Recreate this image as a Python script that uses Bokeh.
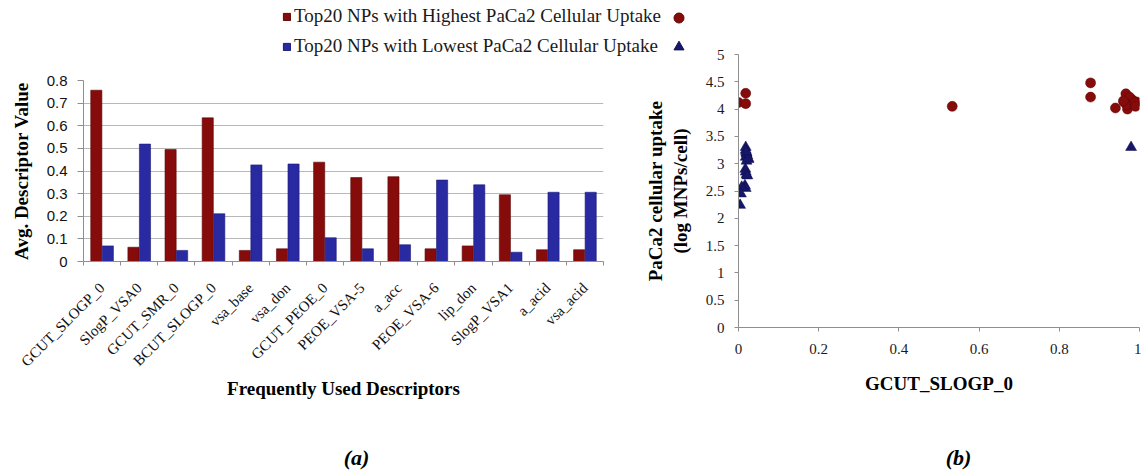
import math
import numpy as np
from bokeh.plotting import figure
from bokeh.models import (Range1d, FixedTicker, SingleIntervalTicker, NumeralTickFormatter,
                          Legend, LegendItem, Label, GridBox, ColumnDataSource)
from bokeh.core.properties import value
from bokeh.embed import file_html
from bokeh.resources import INLINE

# ---------------- data ----------------
descriptors = ["GCUT_SLOGP_0", "SlogP_VSA0", "GCUT_SMR_0", "BCUT_SLOGP_0", "vsa_base", "vsa_don",
               "GCUT_PEOE_0", "PEOE_VSA-5", "a_acc", "PEOE_VSA-6", "lip_don", "SlogP_VSA1",
               "a_acid", "vsa_acid"]
highest_avg = [0.757, 0.063, 0.495, 0.635, 0.049, 0.056, 0.439, 0.371,
               0.375, 0.056, 0.069, 0.295, 0.052, 0.052]
lowest_avg = [0.069, 0.519, 0.049, 0.211, 0.427, 0.431, 0.105, 0.056,
              0.074, 0.360, 0.339, 0.041, 0.306, 0.306]

series_names = ["Top20 NPs with Highest PaCa2 Cellular Uptake",
                "Top20 NPs with Lowest PaCa2 Cellular Uptake"]
panel_tags = ["(a)", "(b)"]

high_gcut = [0.000, 0.018, 0.018, 0.533, 0.878, 0.878, 0.940, 0.966, 0.961, 0.979,
             0.973, 0.993, 0.981, 0.970, 0.985, 0.975, 0.968, 0.988, 0.990, 0.960]
high_uptake = [4.12, 4.29, 4.10, 4.05, 4.48, 4.22, 4.02, 4.28, 4.13, 4.19,
               4.05, 4.13, 4.10, 4.00, 4.15, 4.22, 4.08, 4.12, 4.05, 4.15]
low_gcut = [0.018, 0.018, 0.020, 0.022, 0.025, 0.018, 0.020, 0.017, 0.018, 0.020,
            0.022, 0.016, 0.018, 0.008, 0.006, 0.004, 0.020, 0.024, 0.019, 0.979]
low_uptake = [3.30, 3.25, 3.20, 3.15, 3.08, 3.12, 3.05, 2.90, 2.85, 2.80,
              2.78, 2.60, 2.55, 2.57, 2.45, 2.24, 3.18, 3.10, 3.22, 3.30]

bar_ticks = [0, 0.1, 0.2, 0.3, 0.4, 0.5, 0.6, 0.7, 0.8]

RED = "#860B0B"
RED_EDGE = "#5e0606"
BLUE = "#2929A2"
BLUE_EDGE = "#1b1b78"
NAVY = "#17176A"
AXIS = "#8f8f8f"
SERIF = "Liberation Serif"

# ---------------- bar chart (a) ----------------
n = len(descriptors)
idx = np.arange(n)
bsrc = ColumnDataSource(dict(x_hi=idx + 0.5 - 0.155, x_lo=idx + 0.5 + 0.155,
                             hi=highest_avg, lo=lowest_avg, name=descriptors))

bar = figure(width=640, height=473, x_range=Range1d(0, n), y_range=Range1d(0, 0.8),
             output_backend="svg", toolbar_location=None, frame_align=False,
             min_border_left=83, min_border_right=37, min_border_top=80, min_border_bottom=212)
bar.outline_line_color = None
bar.vbar(x="x_hi", top="hi", width=0.3, bottom=0, source=bsrc,
         fill_color=RED, line_color=RED_EDGE, line_width=0.6)
bar.vbar(x="x_lo", top="lo", width=0.3, bottom=0, source=bsrc,
         fill_color=BLUE, line_color=BLUE_EDGE, line_width=0.6)

xa = bar.xaxis[0]
xa.ticker = FixedTicker(ticks=[float(i) + 0.5 for i in idx], minor_ticks=[float(i) for i in range(n + 1)])
xa.major_label_overrides = {float(i) + 0.5: d for i, d in enumerate(descriptors)}
xa.major_label_orientation = math.pi / 4
xa.major_tick_line_color = None
xa.major_tick_out = 0
xa.major_tick_in = 0
xa.minor_tick_out = 4
xa.minor_tick_in = 0
xa.minor_tick_line_color = AXIS
xa.axis_line_color = AXIS
xa.major_label_text_font = SERIF
xa.major_label_text_font_size = "15px"
xa.major_label_text_color = "#111111"
xa.major_label_standoff = 20
xa.axis_label = "Frequently Used Descriptors"
xa.axis_label_text_font = SERIF
xa.axis_label_text_font_style = "bold"
xa.axis_label_text_font_size = "19px"
xa.axis_label_text_color = "#000000"
xa.axis_label_standoff = 0

ya = bar.yaxis[0]
ya.ticker = FixedTicker(ticks=bar_ticks)
ya.formatter = NumeralTickFormatter(format="0.[0]")
ya.axis_line_color = AXIS
ya.major_tick_line_color = AXIS
ya.major_tick_out = 6
ya.major_tick_in = 0
ya.minor_tick_line_color = None
ya.major_label_text_font = "Liberation Sans"
ya.major_label_text_font_size = "15px"
ya.major_label_text_color = "#111111"
ya.major_label_standoff = 10
ya.axis_label = "Avg. Descriptor Value"
ya.axis_label_text_font = SERIF
ya.axis_label_text_font_style = "bold"
ya.axis_label_text_font_size = "19px"
ya.axis_label_text_color = "#000000"
ya.axis_label_standoff = 12

bar.xgrid.visible = False
bar.ygrid.ticker = FixedTicker(ticks=bar_ticks)
bar.ygrid.grid_line_color = "#b8b8b8"

# ---------------- scatter (b) ----------------
hsrc = ColumnDataSource(dict(x=high_gcut, y=high_uptake))
lsrc = ColumnDataSource(dict(x=low_gcut, y=low_uptake))

sc = figure(width=501, height=473, x_range=Range1d(0, 1), y_range=Range1d(0, 5),
            output_backend="svg", toolbar_location=None, frame_align=False,
            min_border_left=98, min_border_right=2, min_border_top=54, min_border_bottom=146)
sc.outline_line_color = None
sc.grid.visible = False
sc.scatter(x="x", y="y", source=lsrc, marker="triangle", size=11,
           fill_color=NAVY, line_color="#0f0f50", line_width=0.5)
sc.scatter(x="x", y="y", source=hsrc, marker="circle", size=10,
           fill_color=RED, line_color=RED_EDGE, line_width=0.5)

sx = sc.xaxis[0]
sx.ticker = SingleIntervalTicker(interval=0.2, num_minor_ticks=0)
sx.formatter = NumeralTickFormatter(format="0.[0]")
sx.axis_line_color = AXIS
sx.major_tick_line_color = AXIS
sx.major_tick_out = 4
sx.major_tick_in = 0
sx.minor_tick_line_color = None
sx.major_label_text_font = SERIF
sx.major_label_text_font_size = "15px"
sx.major_label_text_color = "#1a1a1a"
sx.major_label_standoff = 12
sx.axis_label = "GCUT_SLOGP_0"
sx.axis_label_text_font = SERIF
sx.axis_label_text_font_style = "bold"
sx.axis_label_text_font_size = "19px"
sx.axis_label_text_color = "#000000"
sx.axis_label_standoff = 16

sy = sc.yaxis[0]
sy.ticker = SingleIntervalTicker(interval=0.5, num_minor_ticks=0)
sy.formatter = NumeralTickFormatter(format="0.[0]")
sy.axis_line_color = AXIS
sy.major_tick_line_color = AXIS
sy.major_tick_out = 4
sy.major_tick_in = 0
sy.minor_tick_line_color = None
sy.major_label_text_font = SERIF
sy.major_label_text_font_size = "15px"
sy.major_label_text_color = "#1a1a1a"
sy.major_label_standoff = 10
sy.axis_label = "PaCa2 cellular uptake\n(log MNPs/cell)"
sy.axis_label_text_font = SERIF
sy.axis_label_text_font_style = "bold"
sy.axis_label_text_font_size = "19px"
sy.axis_label_text_color = "#000000"
sy.axis_label_standoff = 12

# ---------------- shared legend / panel-tag overlay ----------------
leg = figure(width=1141, height=473, x_range=Range1d(0, 1), y_range=Range1d(0, 1),
             x_axis_location=None, y_axis_location=None, frame_align=False,
             output_backend="svg", toolbar_location=None, min_border=0)
leg.outline_line_color = None
leg.background_fill_color = None
leg.border_fill_color = None
leg.grid.visible = False
# hidden renderers that only provide the legend swatches / markers
bar_key = ColumnDataSource(dict(x=[0.5], hi=highest_avg[:1], lo=lowest_avg[:1]))
r_hi = leg.vbar(x="x", top="hi", width=0.1, source=bar_key, fill_color=RED, line_color=RED_EDGE,
                visible=False)
r_lo = leg.vbar(x="x", top="lo", width=0.1, source=bar_key, fill_color=BLUE, line_color=BLUE_EDGE,
                visible=False)
m_hi = leg.scatter(x="x", y="y", source=hsrc, marker="circle", fill_color=RED, line_color=RED_EDGE,
                   visible=False)
m_lo = leg.scatter(x="x", y="y", source=lsrc, marker="triangle", fill_color=NAVY, line_color="#0f0f50",
                   visible=False)

legend_bars = Legend(items=[LegendItem(label=value(series_names[0]), renderers=[r_hi]),
                            LegendItem(label=value(series_names[1]), renderers=[r_lo])],
                     location=(282, 416), orientation="vertical",
                     glyph_width=9, glyph_height=9, label_height=20, spacing=8,
                     padding=0, margin=0, label_standoff=3,
                     label_text_font=SERIF, label_text_font_size="19px",
                     label_text_color="#1a1a1a", inactive_fill_alpha=0,
                     border_line_color=None, background_fill_alpha=0)
legend_marks = Legend(items=[LegendItem(label=value(""), renderers=[m_hi]),
                             LegendItem(label=value(""), renderers=[m_lo])],
                      location=(666, 414), orientation="vertical",
                      glyph_width=25, glyph_height=25, label_height=20, label_width=0,
                      spacing=4, padding=0, margin=0, label_standoff=0,
                      label_text_font_size="1px", inactive_fill_alpha=0,
                      border_line_color=None, background_fill_alpha=0)
leg.add_layout(legend_bars)
leg.add_layout(legend_marks)

for tag, cx in zip(panel_tags, (356, 958)):
    leg.add_layout(Label(x=cx, y=16, x_units="screen", y_units="screen", text=tag,
                         text_align="center", text_baseline="middle",
                         text_font=SERIF, text_font_style="bold italic",
                         text_font_size="22px", text_color="#000000"))

layout = GridBox(children=[(bar, 0, 0), (sc, 0, 1), (leg, 0, 0, 1, 2)], spacing=0)

open("out.html", "w").write(file_html(layout, INLINE))
